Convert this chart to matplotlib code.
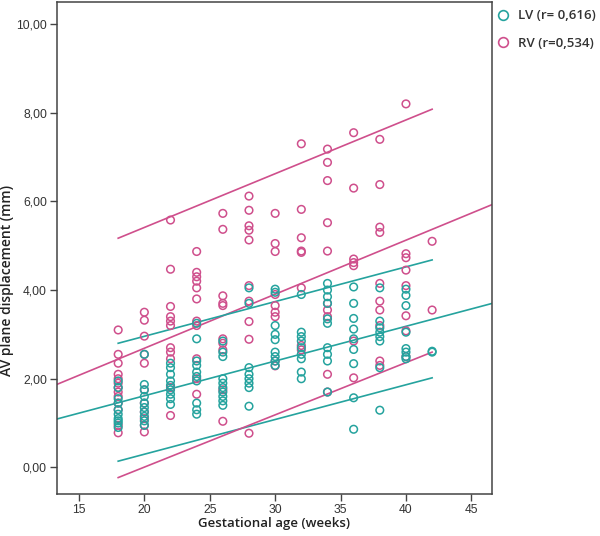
import matplotlib.pyplot as plt
from matplotlib.lines import Line2D
from matplotlib.ticker import FuncFormatter

# Gestational week columns
weeks = [18, 20, 22, 24, 26, 28, 30, 32, 34, 36, 38, 40, 42]

# AV plane displacement (mm), per week
lv_values = [
    [1.95, 1.80, 1.55, 1.45, 1.30, 1.20, 1.10, 1.05, 1.00, 0.90],
    [2.55, 1.87, 1.75, 1.60, 1.45, 1.35, 1.25, 1.15, 1.05, 0.95],
    [2.35, 2.25, 2.10, 1.95, 1.85, 1.75, 1.65, 1.55, 1.42],
    [3.25, 2.90, 2.40, 2.30, 2.15, 2.05, 1.95, 1.45, 1.30, 1.20],
    [2.85, 2.60, 2.50, 2.00, 1.90, 1.80, 1.70, 1.60, 1.50, 1.40],
    [4.05, 3.70, 2.25, 2.10, 2.00, 1.90, 1.80, 1.38],
    [4.02, 3.95, 3.20, 3.00, 2.88, 2.60, 2.50, 2.40, 2.30],
    [3.90, 3.05, 2.95, 2.85, 2.70, 2.55, 2.45, 2.15, 2.00],
    [4.15, 4.00, 3.85, 3.70, 3.35, 3.25, 2.70, 2.55, 2.40, 1.70],
    [4.07, 3.70, 3.36, 3.12, 2.90, 2.66, 2.34, 1.57, 0.86],
    [4.05, 3.30, 3.15, 3.05, 2.95, 2.85, 2.25, 1.29],
    [4.02, 3.88, 3.65, 3.05, 2.68, 2.60, 2.50, 2.45],
    [2.60, 2.62],
]
rv_values = [
    [3.10, 2.55, 2.35, 2.10, 2.00, 1.90, 1.80, 1.70, 1.60, 1.45, 1.30, 0.95, 0.78],
    [3.50, 3.32, 2.96, 2.55, 2.35, 1.75, 1.45, 1.25, 1.10, 0.95, 0.80],
    [5.58, 4.47, 3.63, 3.40, 3.30, 3.20, 2.70, 2.60, 2.45, 1.80, 1.17],
    [4.87, 4.40, 4.30, 4.20, 4.05, 3.80, 3.30, 3.20, 2.45, 2.00, 1.65],
    [5.73, 5.37, 3.87, 3.70, 3.65, 2.90, 2.80, 2.65, 1.75, 1.04],
    [6.12, 5.80, 5.45, 5.35, 5.13, 4.10, 3.75, 3.29, 2.89, 0.77],
    [5.73, 5.05, 4.87, 3.90, 3.65, 3.50, 3.40, 2.40, 2.29],
    [7.30, 5.82, 5.18, 4.88, 4.85, 4.05, 2.75, 2.65],
    [7.18, 6.88, 6.47, 5.52, 4.88, 3.70, 3.55, 3.40, 2.10, 1.70],
    [7.55, 6.30, 4.70, 4.62, 4.55, 2.85, 2.02],
    [7.40, 6.38, 5.42, 5.30, 4.15, 3.75, 3.55, 3.20, 2.40, 2.30],
    [8.20, 4.82, 4.73, 4.45, 4.10, 3.42, 3.08, 2.50],
    [5.10, 3.55],
]

# Fit lines (full axis width) and prediction limits (data range)
fit_x = [13.3, 46.6]
lv_fit_y = [1.09, 3.70]
rv_fit_y = [1.87, 5.93]
pred_x = [18, 42]
lv_upper = [2.80, 4.68]
lv_lower = [0.14, 2.02]
rv_upper = [5.17, 8.08]
rv_lower = [-0.23, 2.60]

legend_labels = ["LV (r= 0,616)", "RV (r=0,534)"]
teal = "#25a39e"
pink = "#cf4f8c"

fig = plt.figure(figsize=(6, 5.36), dpi=100)
ax = fig.add_axes([0.0945, 0.0784, 0.726, 0.918])

# scatter points
for wk, vals in zip(weeks, rv_values):
    ax.scatter([wk] * len(vals), vals, s=30, facecolors="none",
               edgecolors=pink, linewidths=1.1, zorder=3)
for wk, vals in zip(weeks, lv_values):
    ax.scatter([wk] * len(vals), vals, s=30, facecolors="none",
               edgecolors=teal, linewidths=1.1, zorder=3)

# regression lines
ax.plot(fit_x, lv_fit_y, color=teal, lw=1.2)
ax.plot(fit_x, rv_fit_y, color=pink, lw=1.2)
ax.plot(pred_x, lv_upper, color=teal, lw=1.2)
ax.plot(pred_x, lv_lower, color=teal, lw=1.2)
ax.plot(pred_x, rv_upper, color=pink, lw=1.2)
ax.plot(pred_x, rv_lower, color=pink, lw=1.2)

ax.set_xlim(13.3, 46.6)
ax.set_ylim(-0.6, 10.5)
ax.set_xticks([15, 20, 25, 30, 35, 40, 45])
ax.set_yticks([0, 2, 4, 6, 8, 10])
ax.yaxis.set_major_formatter(FuncFormatter(lambda v, p: f"{v:.2f}".replace(".", ",")))

for sp in ax.spines.values():
    sp.set_color("#444444")
    sp.set_linewidth(1.1)
ax.tick_params(direction="out", length=5, width=1, color="#444444",
               labelcolor="#333333", labelsize=8.7, pad=2)
for lab in ax.get_xticklabels() + ax.get_yticklabels():
    lab.set_family("Liberation Sans")

ax.set_xlabel("Gestational age (weeks)", fontsize=9.5, family="Open Sans",
              fontweight="semibold", color="#222222")
ax.set_ylabel("AV plane displacement (mm)", fontsize=10, family="Open Sans",
              fontweight="semibold", color="#222222")
ax.xaxis.set_label_coords(0.5, -0.047)
ax.yaxis.set_label_coords(-0.098, 0.433)

handles = [
    Line2D([], [], ls="none", marker="o", markersize=7, markerfacecolor="none",
           markeredgecolor=teal, markeredgewidth=1.2),
    Line2D([], [], ls="none", marker="o", markersize=7, markerfacecolor="none",
           markeredgecolor=pink, markeredgewidth=1.2),
]
leg = fig.legend(handles, legend_labels, loc="upper left",
                 bbox_to_anchor=(0.808, 1.005), frameon=False,
                 handlelength=1.0, handletextpad=0.6, labelspacing=1.1,
                 prop={"family": "Open Sans", "weight": "semibold", "size": 9.5})
for t in leg.get_texts():
    t.set_color("#333333")

fig.savefig("out.png", dpi=100)
